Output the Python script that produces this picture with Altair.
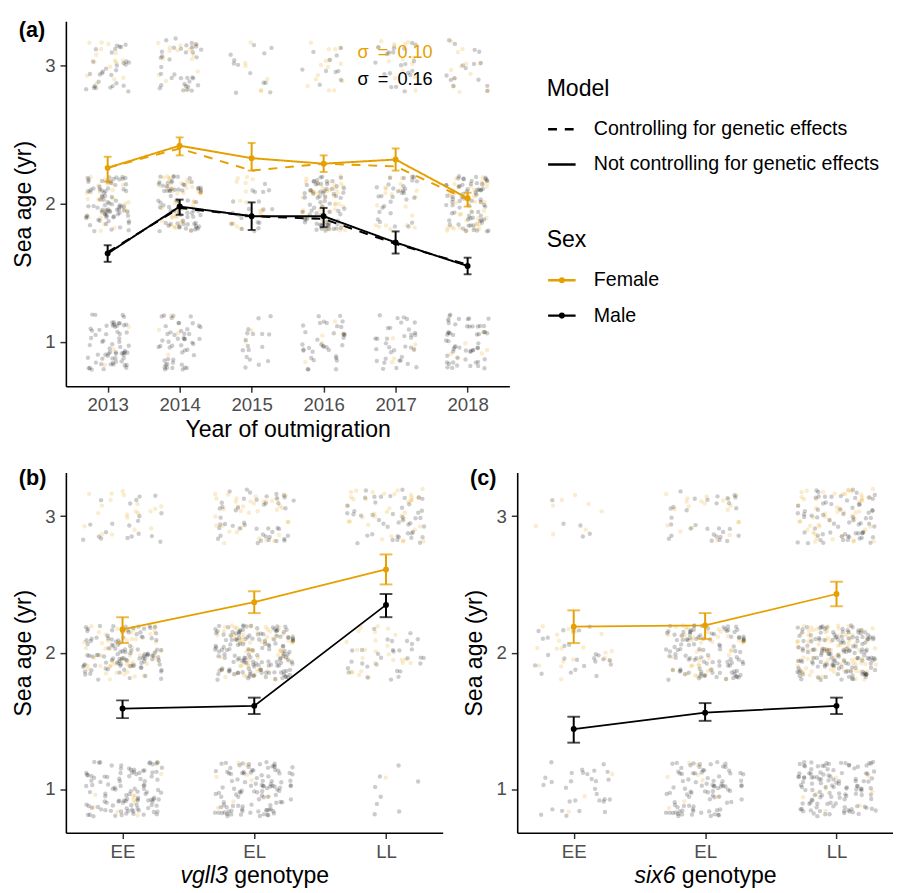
import altair as alt
import pandas as pd

FONT = "Liberation Sans"
ORANGE = "#E69F00"
BLACK = "#000000"

years = ["2013", "2014", "2015", "2016", "2017", "2018"]
genotypes = ["EE", "EL", "LL"]
sexes = ["Female", "Male"]
models = ["Controlling for genetic effects", "Not controlling for genetic effects"]
tags = ["(a)", "(b)", "(c)"]
sigma_labels = ["σ\u2002=\u20020.10", "σ\u2002=\u20020.16"]

# ---- panel (a): model estimates by year ----
a_fem = [2.26, 2.42, 2.33, 2.29, 2.32, 2.04]
a_fem_lo = [2.16, 2.35, 2.24, 2.23, 2.24, 1.98]
a_fem_hi = [2.34, 2.48, 2.44, 2.35, 2.40, 2.08]
a_fem_ctrl = [2.26, 2.40, 2.24, 2.29, 2.27, 2.03]
a_male = [1.64, 1.98, 1.91, 1.91, 1.72, 1.55]
a_male_lo = [1.58, 1.92, 1.81, 1.83, 1.64, 1.49]
a_male_hi = [1.70, 2.03, 2.01, 1.97, 1.80, 1.61]
a_male_ctrl = [1.65, 1.97, 1.91, 1.89, 1.71, 1.56]

# ---- panel (b): vgll3 ----
b_fem = [2.17, 2.37, 2.61]
b_fem_lo = [2.07, 2.29, 2.50]
b_fem_hi = [2.26, 2.45, 2.72]
b_male = [1.59, 1.61, 2.35]
b_male_lo = [1.52, 1.55, 2.26]
b_male_hi = [1.65, 1.67, 2.43]

# ---- panel (c): six6 ----
c_fem = [2.19, 2.20, 2.43]
c_fem_lo = [2.07, 2.10, 2.34]
c_fem_hi = [2.31, 2.29, 2.52]
c_male = [1.44, 1.56, 1.61]
c_male_lo = [1.34, 1.50, 1.55]
c_male_hi = [1.53, 1.63, 1.67]

# ---- raw observations: number of fish per sea age and category ----
a_n_male_1 = [65, 50, 17, 35, 35, 55]
a_n_male_2 = [80, 70, 20, 70, 30, 70]
a_n_male_3 = [30, 35, 12, 10, 20, 15]
a_n_fem_1 = [3, 4, 2, 5, 5, 7]
a_n_fem_2 = [25, 40, 15, 40, 20, 40]
a_n_fem_3 = [15, 15, 6, 15, 15, 12]

b_n_male_1 = [110, 110, 8]
b_n_male_2 = [110, 150, 30]
b_n_male_3 = [20, 45, 45]
b_n_fem_1 = [10, 8, 1]
b_n_fem_2 = [50, 60, 25]
b_n_fem_3 = [20, 35, 35]

c_n_male_1 = [30, 90, 120]
c_n_male_2 = [25, 110, 150]
c_n_male_3 = [5, 30, 70]
c_n_fem_1 = [3, 8, 8]
c_n_fem_2 = [20, 40, 80]
c_n_fem_3 = [8, 20, 50]


def count_table(m1, m2, m3, f1, f2, f3):
    rows = []
    for sex, s, lists in (("Female", 0, (f1, f2, f3)), ("Male", 1, (m1, m2, m3))):
        for age, lst in zip((1, 2, 3), lists):
            for i, n in enumerate(lst):
                rows.append({"idx": i + 1, "age": age, "sex": sex, "s": s, "n": n})
    return pd.DataFrame(rows)


def est_table(f, flo, fhi, m, mlo, mhi):
    rows = []
    for sex, v, lo, hi in (("Female", f, flo, fhi), ("Male", m, mlo, mhi)):
        for i in range(len(v)):
            rows.append({"idx": i + 1, "sex": sex, "value": v[i], "lo": lo[i], "hi": hi[i]})
    return pd.DataFrame(rows)


def label_expr(labels):
    return "[" + ",".join("'%s'" % l for l in labels) + "][datum.value - 1]"


ysc = alt.Scale(domain=[0.68, 3.32], nice=False, zero=False)
yax = alt.Axis(values=[1, 2, 3], title="Sea age (yr)", format="d")


def sex_scale():
    return alt.Scale(domain=sexes, range=[ORANGE, BLACK])


dsc = alt.Scale(domain=models, range=[[9, 8], [1, 0]])


def jitter_layer(counts, xsc, xaxis):
    return (
        alt.Chart(counts)
        .transform_calculate(seq="sequence(0, datum.n)")
        .transform_flatten(["seq"])
        .transform_calculate(
            r1="sin(datum.seq*12.9898 + datum.idx*78.233 + datum.age*37.719 + datum.s*91.17)*43758.5453",
            r2="sin(datum.seq*39.3468 + datum.idx*11.135 + datum.age*83.155 + datum.s*27.31)*24634.6345",
        )
        .transform_calculate(
            jx="datum.idx + 0.6*(datum.r1 - floor(datum.r1) - 0.5)",
            jy="datum.age + 0.4*(datum.r2 - floor(datum.r2) - 0.5)",
        )
        .mark_circle(size=20, opacity=0.2)
        .encode(
            x=alt.X("jx:Q", scale=xsc, axis=xaxis),
            y=alt.Y("jy:Q", scale=ysc, axis=yax),
            fill=alt.Fill("sex:N", scale=sex_scale(), legend=None),
        )
    )


def error_layers(est, xsc, xaxis, cap):
    xenc = alt.X("idx:Q", scale=xsc, axis=xaxis)
    rule = alt.Chart(est).mark_rule(strokeWidth=2).encode(
        x=xenc, y=alt.Y("lo:Q", scale=ysc, axis=yax), y2="hi:Q",
        stroke=alt.Stroke("sex:N", scale=sex_scale(), legend=None))
    lo = alt.Chart(est).mark_tick(orient="horizontal", size=cap, thickness=2).encode(
        x=xenc, y=alt.Y("lo:Q", scale=ysc, axis=yax),
        fill=alt.Fill("sex:N", scale=sex_scale(), legend=None))
    hi = alt.Chart(est).mark_tick(orient="horizontal", size=cap, thickness=2).encode(
        x=xenc, y=alt.Y("hi:Q", scale=ysc, axis=yax),
        fill=alt.Fill("sex:N", scale=sex_scale(), legend=None))
    dots = alt.Chart(est).mark_circle(size=36, opacity=1).encode(
        x=xenc, y=alt.Y("value:Q", scale=ysc, axis=yax),
        fill=alt.Fill("sex:N", scale=sex_scale(), legend=None))
    return [rule, lo, hi, dots]


def tag_layer(tag, ypix):
    return alt.Chart(pd.DataFrame({"tag": [tag]})).mark_text(
        align="left", baseline="middle", fontSize=22, fontWeight="bold", font=FONT, color="black"
    ).encode(x=alt.value(-48), y=alt.value(ypix), text="tag:N")


# ================= panel (a) =================
W_A, H_A = 452, 372
xsc_a = alt.Scale(domain=[0.42, 6.58], nice=False, zero=False)
xax_a = alt.Axis(values=list(range(1, len(years) + 1)), labelExpr=label_expr(years),
                 title="Year of outmigration", titleY=51, titleBaseline="alphabetic")

counts_a = count_table(a_n_male_1, a_n_male_2, a_n_male_3, a_n_fem_1, a_n_fem_2, a_n_fem_3)
est_a = est_table(a_fem, a_fem_lo, a_fem_hi, a_male, a_male_lo, a_male_hi)

line_rows = []
for sex, ctrl, solid in (("Female", a_fem_ctrl, a_fem), ("Male", a_male_ctrl, a_male)):
    for i in range(len(years)):
        line_rows.append({"idx": i + 1, "sex": sex, "model": models[0], "value": ctrl[i]})
        line_rows.append({"idx": i + 1, "sex": sex, "model": models[1], "value": solid[i]})
lines_a = pd.DataFrame(line_rows)

legend_common = dict(
    orient="none", padding=0,
    titleFont=FONT, titleFontSize=23.5, titleFontWeight="normal", titleColor="black", titlePadding=14,
    labelFont=FONT, labelFontSize=20, labelColor="black", labelOffset=17, labelLimit=400,
    symbolSize=784, symbolStrokeWidth=2.5, rowPadding=10,
)
sex_legend = alt.Legend(
    title="Sex", legendX=490, legendY=211,
    symbolType="M-1,0L1,0M-0.13,0A0.13,0.13,0,1,0,0.13,0A0.13,0.13,0,1,0,-0.13,0",
    **legend_common,
)
model_legend = alt.Legend(
    title="Model", legendX=490, legendY=57,
    symbolType="stroke", symbolStrokeColor="black",
    **legend_common,
)

line_a = alt.Chart(lines_a).mark_line(strokeWidth=2).encode(
    x=alt.X("idx:Q", scale=xsc_a, axis=xax_a),
    y=alt.Y("value:Q", scale=ysc, axis=yax),
    color=alt.Color("sex:N", scale=sex_scale(), legend=sex_legend),
    strokeDash=alt.StrokeDash("model:N", scale=dsc, legend=model_legend),
)


def sigma_layer(label, color, ypos):
    return alt.Chart(pd.DataFrame({"label": [label]})).mark_text(
        align="left", baseline="middle", fontSize=18.5, font=FONT, color=color
    ).encode(
        x=alt.XDatum(4.47, scale=xsc_a, axis=xax_a),
        y=alt.YDatum(ypos, scale=ysc, axis=yax),
        text="label:N",
    )


panel_a = alt.layer(
    jitter_layer(counts_a, xsc_a, xax_a),
    line_a,
    *error_layers(est_a, xsc_a, xax_a, 8),
    sigma_layer(sigma_labels[0], ORANGE, 3.10),
    sigma_layer(sigma_labels[1], BLACK, 2.90),
    tag_layer(tags[0], 9.5),
).properties(width=W_A, height=H_A)


# ================= panels (b) and (c) =================
def geno_panel(counts, est, gene, gene_w, width, height, tag):
    xsc = alt.Scale(domain=[0.57, 3.43], nice=False, zero=False)
    total = gene_w + 6.5 + 96.7
    start = width / 2 - total / 2
    main_axis = alt.Axis(values=[1, 2, 3], labelExpr=label_expr(genotypes), orient="bottom",
                         title=gene, titleFontStyle="italic", titleX=start, titleAlign="left",
                         titleAnchor="start", titleY=51, titleBaseline="alphabetic")
    second_axis = alt.Axis(orient="bottom", labels=False, ticks=False, domain=False, grid=False,
                           title="genotype", titleX=start + gene_w + 6.5, titleAlign="left",
                           titleAnchor="start", titleY=51, titleBaseline="alphabetic")
    line = alt.Chart(est).mark_line(strokeWidth=1.8).encode(
        x=alt.X("idx:Q", scale=xsc, axis=second_axis),
        y=alt.Y("value:Q", scale=ysc, axis=yax),
        color=alt.Color("sex:N", scale=sex_scale(), legend=None),
    )
    return alt.layer(
        jitter_layer(counts, xsc, main_axis),
        line,
        *error_layers(est, xsc, None, 13),
        tag_layer(tag, 6),
    ).resolve_axis(x="independent").properties(width=width, height=height)


counts_b = count_table(b_n_male_1, b_n_male_2, b_n_male_3, b_n_fem_1, b_n_fem_2, b_n_fem_3)
est_b = est_table(b_fem, b_fem_lo, b_fem_hi, b_male, b_male_lo, b_male_hi)
counts_c = count_table(c_n_male_1, c_n_male_2, c_n_male_3, c_n_fem_1, c_n_fem_2, c_n_fem_3)
est_c = est_table(c_fem, c_fem_lo, c_fem_hi, c_male, c_male_lo, c_male_hi)

panel_b = geno_panel(counts_b, est_b, "vgll3", 48.3, 384, 367, tags[1])
panel_c = geno_panel(counts_c, est_c, "six6", 41.8, 383, 367, tags[2])

bottom = alt.hconcat(panel_b, panel_c, spacing=20)

chart = (
    alt.vconcat(panel_a, bottom, spacing=27)
    .resolve_scale(color="independent", strokeDash="independent")
    .resolve_legend(color="independent", strokeDash="independent")
    .properties(padding={"left": 3, "top": 3, "right": 0, "bottom": 0})
    .configure(font=FONT)
    .configure_view(stroke=None)
    .configure_axis(
        grid=False, domainColor="black", domainWidth=1.6, tickColor="#333333", tickWidth=1.5,
        tickSize=6, labelColor="#4D4D4D", labelFontSize=19, labelFont=FONT, labelPadding=4,
        titleFont=FONT, titleFontSize=23.5, titleFontWeight="normal", titleColor="black",
    )
    .configure_axisY(titlePadding=9.5, labelPadding=5)
)

chart.save("out.html", embed_options={"renderer": "svg", "actions": False})
